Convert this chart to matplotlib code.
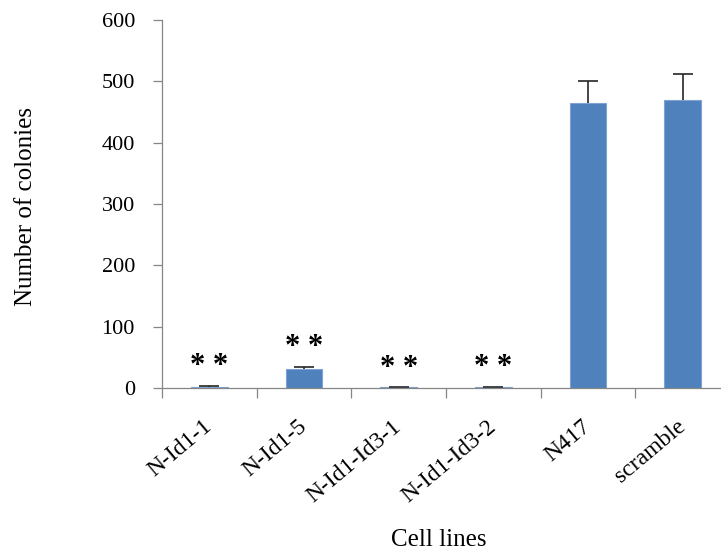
import numpy as np
import matplotlib
matplotlib.use('Agg')
import matplotlib.pyplot as plt

cell_lines = ['N-Id1-1', 'N-Id1-5', 'N-Id1-Id3-1', 'N-Id1-Id3-2', 'N417', 'scramble']
colonies = [2, 31, 1, 1, 465, 470]
errors = [2, 4, 0, 1, 35, 42]
marks = ['* *', '* *', '* *', '* *', '', '']

plt.rcParams['font.family'] = ['Liberation Serif', 'DejaVu Serif']

fig = plt.figure(figsize=(7.21, 5.56), dpi=100)
ax = fig.add_axes([162 / 721, 168 / 556, 568 / 721, 368 / 556])

x = np.arange(len(cell_lines))
ax.bar(x, colonies, width=0.39, color='#4F81BD', edgecolor='#7FA3D2', linewidth=0.8, zorder=2)
# plus-only error bars (hide the lower cap)
eb = ax.errorbar(x, colonies, yerr=[np.zeros(len(errors)), errors], fmt='none',
                 ecolor='#262626', elinewidth=1.2, capsize=7, capthick=1.2, zorder=3)
eb[1][0].set_visible(False)

# significance stars above the knock-down lines
for xi, v, e, m in zip(x, colonies, errors, marks):
    if m:
        ax.text(xi, v + e + 19, m, ha='center', va='baseline', fontsize=22, fontweight='bold')

ax.set_xlim(-0.5, len(cell_lines) - 0.5)
ax.set_ylim(0, 600)
ax.set_yticks(np.arange(0, 601, 100))

ax.set_xticks(x)
ax.set_xticks(np.arange(-0.5, len(cell_lines), 1), minor=True)
ax.set_xticklabels(cell_lines, rotation=40, ha='right', va='center', rotation_mode='anchor')
ax.tick_params(axis='x', which='major', length=0, pad=26, labelsize=17)
ax.tick_params(axis='x', which='minor', length=7, width=0.9, color='#868686')
ax.tick_params(axis='y', length=6.5, width=0.9, color='#868686', pad=13, labelsize=16)

for s in ['top', 'right']:
    ax.spines[s].set_visible(False)
for s in ['left', 'bottom']:
    ax.spines[s].set_color('#868686')
    ax.spines[s].set_linewidth(0.9)
ax.spines['bottom'].set_zorder(4)

fig.text(26 / 721, 1 - 207 / 556, 'Number of colonies', rotation=90, ha='center', va='center', fontsize=18)
fig.text(439 / 721, 1 - 540 / 556, 'Cell lines', ha='center', va='center', fontsize=18)

fig.savefig('out.png', dpi=100)
